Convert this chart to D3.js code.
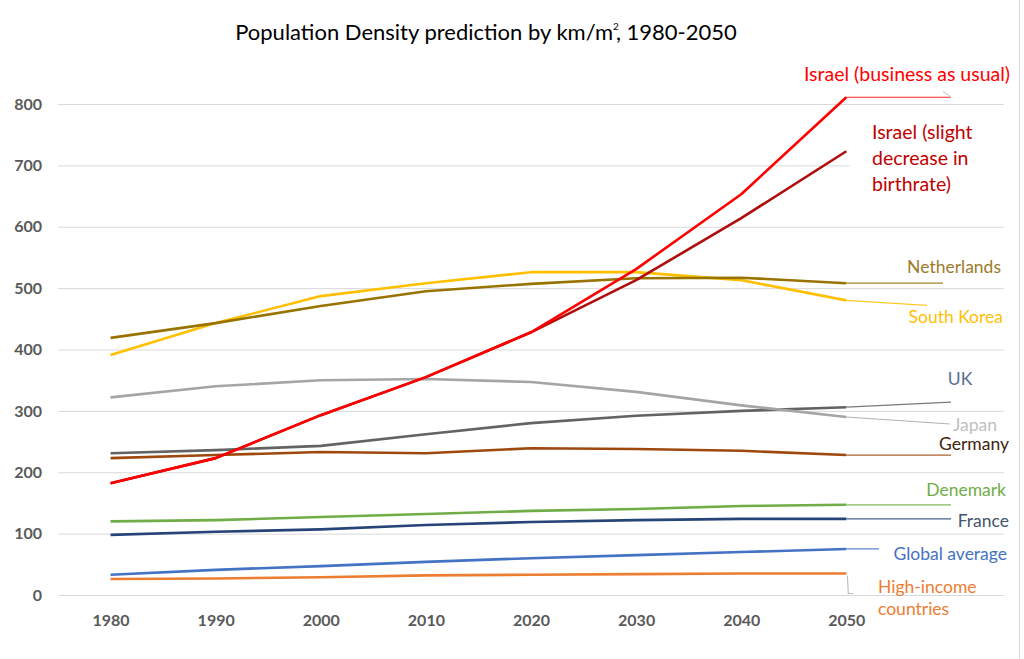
<!DOCTYPE html>
<html>
<head>
<meta charset="utf-8">
<script src="https://cdn.jsdelivr.net/npm/d3@7"></script>
<style>
  html, body { margin: 0; padding: 0; background: #fff; }
  svg { display: block; }
  text { font-family: Lato, "Open Sans", sans-serif; }
</style>
</head>
<body>
<svg id="chart" width="1024" height="659"></svg>
<script>
// ---------- DATA ----------
const years = [1980, 1990, 2000, 2010, 2020, 2030, 2040, 2050];
const yTicks = [0, 100, 200, 300, 400, 500, 600, 700, 800];

const israelBAU    = [182, 223, 293, 355, 428, 531, 653, 811];
const israelSlight = [182, 223, 293, 355, 428, 513, 614, 723];
const netherlands  = [419, 443, 471, 495, 507, 516, 517, 508];
const southKorea   = [391, 443, 487, 508, 526, 526, 513, 480];
const japan        = [322, 340, 350, 352, 347, 331, 309, 290];
const uk           = [231, 236, 243, 262, 280, 292, 300, 306];
const germany      = [223, 228, 233, 231, 239, 238, 235, 228];
const denemark     = [120, 122, 127, 132, 137, 140, 145, 147];
const france       = [ 98, 103, 107, 114, 119, 122, 124, 124];
const globalAvg    = [ 33, 41, 47, 54, 60, 65, 70, 75];
const highIncome   = [ 26, 27, 29, 32, 33, 34, 35, 35];

const seriesNames = ["High-income countries", "Global average", "France", "Denemark", "Germany",
  "UK", "Japan", "South Korea", "Netherlands", "Israel (slight decrease in birthrate)", "Israel (business as usual)"];
const seriesValues = [highIncome, globalAvg, france, denemark, germany, uk, japan, southKorea,
  netherlands, israelSlight, israelBAU];

// ---------- STYLE / LAYOUT ----------
const lineColors = ["#ED7D31", "#4472C4", "#264478", "#70AD47", "#9E480E", "#636363", "#A5A5A5",
  "#FFC000", "#997300", "#B00C0C", "#FF0000"];
const labelLayout = [
  { lines: ["High-income", "countries"], anchor: "start", x: 878, y: 593, size: 17.5, lh: 22, color: "#ED7D31", leader: "drop" },
  { lines: ["Global average"], anchor: "end", x: 1007, y: 560, size: 17.5, color: "#4472C4", leaderTo: [879, 0] },
  { lines: ["France"], anchor: "end", x: 1009, y: 527, size: 17.5, color: "#44546A", leaderTo: [951, 0] },
  { lines: ["Denemark"], anchor: "end", x: 1006, y: 496, size: 17.5, color: "#70AD47", leaderTo: [951, 0] },
  { lines: ["Germany"], anchor: "end", x: 1009, y: 450, size: 17.5, color: "#3F230C", leaderTo: [951, 0] },
  { lines: ["UK"], anchor: "middle", x: 960, y: 385, size: 17.5, color: "#5A7096", leaderTo: [951, -5] },
  { lines: ["Japan"], anchor: "end", x: 997, y: 431, size: 17.5, color: "#BFBFBF", leaderTo: [950, 7] },
  { lines: ["South Korea"], anchor: "end", x: 1003, y: 323, size: 17.5, color: "#FFC000", leaderTo: [927, 5] },
  { lines: ["Netherlands"], anchor: "end", x: 1001, y: 273, size: 17.5, color: "#9C7A2C", leaderTo: [943, 0] },
  { lines: ["Israel (slight", "decrease in", "birthrate)"], anchor: "start", x: 872, y: 139, size: 19.5, lh: 26, color: "#C00000", box: true },
  { lines: ["Israel (business as usual)"], anchor: "middle", x: 907, y: 81, size: 19.5, color: "#FF0000", leaderTo: [951, 0], hook: true }
];

const svg = d3.select("#chart");
const plot = { left: 58, right: 1004, top: 104, bottom: 595 };

const x = d3.scaleLinear().domain([1975, 2065]).range([plot.left, plot.right]);
const y = d3.scaleLinear().domain([0, 800]).range([plot.bottom, plot.top]);

// gridlines
svg.append("g")
  .attr("transform", `translate(${plot.left},0)`)
  .call(d3.axisLeft(y).tickValues(yTicks).tickSize(-(plot.right - plot.left)).tickFormat(""))
  .call(g => g.select(".domain").remove())
  .call(g => g.selectAll("line").attr("stroke", "#D9D9D9").attr("stroke-width", 1));

// y labels
svg.append("g")
  .attr("transform", `translate(${plot.left - 16},0)`)
  .call(d3.axisLeft(y).tickValues(yTicks).tickSize(0).tickPadding(0))
  .call(g => g.select(".domain").remove())
  .call(g => g.selectAll("text")
    .attr("fill", "#595959").attr("font-size", 16).attr("font-weight", "bold")
    .style("font-family", "Lato, sans-serif"));

// x labels
svg.append("g")
  .attr("transform", `translate(0,${plot.bottom + 20})`)
  .call(d3.axisBottom(x).tickValues(years).tickSize(0).tickPadding(0).tickFormat(d3.format("d")))
  .call(g => g.select(".domain").remove())
  .call(g => g.selectAll("text")
    .attr("fill", "#595959").attr("font-size", 16).attr("font-weight", "bold")
    .style("font-family", "Lato, sans-serif"));

// right border
svg.append("line").attr("x1", 1019.5).attr("x2", 1019.5).attr("y1", 0).attr("y2", 659)
  .attr("stroke", "#D9D9D9");

// label boxes (cover gridlines like Excel label backgrounds)
labelLayout.forEach(l => {
  if (l.box) {
    svg.append("rect").attr("x", x(2050) + 3).attr("y", 118).attr("width", plot.right - x(2050) - 3).attr("height", 80)
      .attr("fill", "#fff");
  }
});

// leader lines
const last = years.length - 1;
seriesValues.forEach((vals, i) => {
  const l = labelLayout[i];
  const px = x(years[last]), py = y(vals[last]);
  if (l.leaderTo) {
    svg.append("line").attr("x1", px).attr("y1", py)
      .attr("x2", l.leaderTo[0]).attr("y2", py + l.leaderTo[1])
      .attr("stroke", lineColors[i]).attr("stroke-width", 1.2).attr("opacity", 0.85);
    if (l.hook) {
      svg.append("line").attr("x1", l.leaderTo[0] - 8).attr("y1", py - 6)
        .attr("x2", l.leaderTo[0]).attr("y2", py)
        .attr("stroke", "#BFBFBF").attr("stroke-width", 1);
    }
  }
  if (l.leader === "drop") {
    svg.append("path").attr("d", `M${px + 1},${py + 2}L${px + 2},${py + 20}L${px + 7},${py + 20}`)
      .attr("fill", "none").attr("stroke", "#BFBFBF").attr("stroke-width", 1.2);
  }
});

// series lines
const line = d3.line().x((d, j) => x(years[j])).y(d => y(d));
svg.append("g").selectAll("path").data(seriesValues).join("path")
  .attr("d", line)
  .attr("fill", "none")
  .attr("stroke", (d, i) => lineColors[i])
  .attr("stroke-width", 2.6)
  .attr("stroke-linejoin", "round")
  .attr("stroke-linecap", "butt");

// labels
labelLayout.forEach(l => {
  const t = svg.append("text").attr("x", l.x).attr("y", l.y)
    .attr("text-anchor", l.anchor).attr("fill", l.color).attr("font-size", l.size);
  l.lines.forEach((s, k) => {
    t.append("tspan").attr("x", l.x).attr("dy", k === 0 ? 0 : (l.lh || 26)).text(s);
  });
});

// title
const title = svg.append("text").attr("x", 486).attr("y", 40).attr("text-anchor", "middle")
  .attr("font-size", 22).attr("fill", "#000");
title.append("tspan").text("Population Density prediction by km/m");
title.append("tspan").attr("font-size", 10).attr("dy", -10).text("2");
title.append("tspan").attr("dx", -3).attr("dy", 10).text(", 1980-2050");
</script>
</body>
</html>
